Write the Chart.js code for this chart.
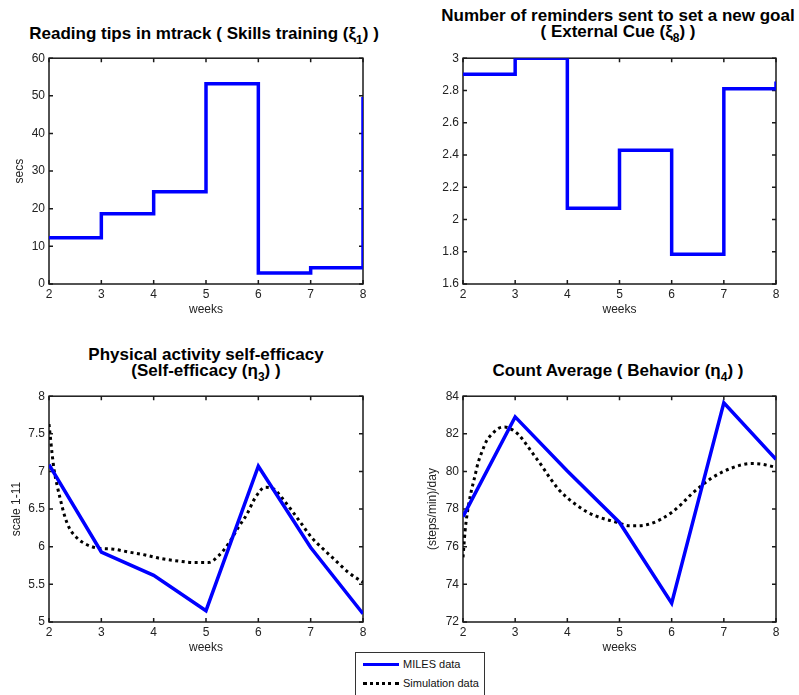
<!DOCTYPE html>
<html>
<head>
<meta charset="utf-8">
<script src="https://cdn.jsdelivr.net/npm/chart.js@4.4.1/dist/chart.umd.min.js"></script>
<style>
  html, body { margin:0; padding:0; background:#fff; }
  #wrap { position:relative; width:799px; height:695px; overflow:hidden; background:#fff;
          font-family:"Liberation Sans", Arial, Helvetica, sans-serif; }
  canvas { position:absolute; }
  .title { position:absolute; width:440px; text-align:center; font-weight:bold; font-size:17px;
           line-height:16px; color:#000; white-space:nowrap; }
  .title sub { font-size:12px; line-height:0; vertical-align:-5px; }
  #legend { position:absolute; left:355px; top:652px; width:128px; height:50px;
            border:1px solid #333; background:#fff; font-size:11px; color:#111; }
  .lrow { position:absolute; left:0; height:16px; line-height:16px; }
  .lrow .sw { position:absolute; left:7px; width:36px; height:0; }
  .lrow span { position:absolute; left:47px; white-space:nowrap; }
</style>
</head>
<body>
<div id="wrap">
  <canvas id="cA" width="380" height="273" style="left:0px;top:47px;width:380px;height:273px"></canvas>
  <canvas id="cB" width="385" height="273" style="left:414px;top:47px;width:385px;height:273px"></canvas>
  <canvas id="cC" width="380" height="273" style="left:0px;top:385px;width:380px;height:273px"></canvas>
  <canvas id="cD" width="385" height="273" style="left:414px;top:385px;width:385px;height:273px"></canvas>

  <div class="title" style="left:-16px;top:26px;">Reading tips in mtrack ( Skills training (ξ<sub>1</sub>) )</div>
  <div class="title" style="left:398px;top:8px;">Number of reminders sent to set a new goal<br>( External Cue (ξ<sub>8</sub>) )</div>
  <div class="title" style="left:-14px;top:347px;">Physical activity self-efficacy<br>(Self-efficacy (η<sub>3</sub>) )</div>
  <div class="title" style="left:398px;top:363px;">Count Average ( Behavior (η<sub>4</sub>) )</div>

  <div id="legend">
    <div class="lrow" style="top:3px;width:128px;"><div class="sw" style="top:7px;border-top:3px solid #0000ff;"></div><span>MILES data</span></div>
    <div class="lrow" style="top:22px;width:128px;"><div class="sw" style="top:7px;border-top:3px dotted #000;"></div><span>Simulation data</span></div>
  </div>
</div>
<script>
// ---------------- data ----------------
const weeks = [2, 3, 4, 5, 6, 7, 8];
const xTicks = [2, 3, 4, 5, 6, 7, 8];

// Reading tips in mtrack (secs) - stairs
const readingTips = [12.3, 18.7, 24.5, 53.2, 2.9, 4.3, 49.7];
// Number of reminders sent - stairs
const reminders = [2.90, 3.00, 2.07, 2.43, 1.785, 2.81, 2.855];

// Self-efficacy
const selfEffMiles = [7.09, 5.93, 5.62, 5.15, 7.07, 5.99, 5.11];
const selfEffSimX = [2.0, 2.03, 2.06, 2.10, 2.15, 2.21, 2.29, 2.38, 2.53, 2.69, 2.94, 3.20, 3.52, 3.84,
                     4.16, 4.47, 4.79, 5.05, 5.24, 5.43, 5.62, 5.78, 5.94, 6.13, 6.29, 6.45, 6.64,
                     6.83, 7.02, 7.21, 7.47, 7.72, 7.95, 8.0];
const selfEffSimY = [7.63, 7.43, 7.23, 7.01, 6.83, 6.65, 6.43, 6.26, 6.12, 6.04, 5.98, 5.97, 5.93, 5.89,
                     5.84, 5.81, 5.79, 5.79, 5.88, 6.04, 6.26, 6.43, 6.65, 6.79, 6.77, 6.65, 6.48,
                     6.30, 6.12, 5.99, 5.82, 5.66, 5.55, 5.53];

// Count average (steps/min)/day
const countMiles = [77.6, 82.9, 80.03, 77.29, 73.0, 83.65, 80.65];
const countSimX = [2.0, 2.02, 2.04, 2.07, 2.11, 2.16, 2.23, 2.29, 2.37, 2.45, 2.55, 2.68, 2.80, 2.93,
                   3.06, 3.19, 3.35, 3.51, 3.67, 3.83, 3.99, 4.15, 4.34, 4.53, 4.72, 4.91, 5.04,
                   5.17, 5.36, 5.58, 5.80, 6.00, 6.19, 6.38, 6.57, 6.76, 6.95, 7.14, 7.34, 7.53,
                   7.72, 7.97, 8.0];
const countSimY = [75.44, 76.15, 76.85, 77.56, 78.27, 78.97, 79.77, 80.47, 81.09, 81.62, 81.97, 82.29, 82.36, 82.24,
                   81.97, 81.53, 80.91, 80.30, 79.64, 79.06, 78.62, 78.27, 77.91, 77.65, 77.47, 77.33, 77.21,
                   77.12, 77.12, 77.21, 77.47, 77.82, 78.27, 78.80, 79.24, 79.64, 79.94, 80.17, 80.35, 80.42,
                   80.39, 80.24, 80.22];

// ---------------- helpers ----------------
const FONT = "'Liberation Sans', Arial, Helvetica, sans-serif";
const BLUE = '#0000ff';
const zip = (xs, ys) => xs.map((x, i) => ({x, y: ys[i]}));
const fmt = v => String(Math.round(v * 100) / 100);

const boxPlugin = {
  id: 'matlabBox',
  beforeDatasetsDraw(chart) {
    const {ctx, chartArea: a, scales: {x, y}} = chart;
    ctx.save();
    ctx.strokeStyle = '#1a1a1a';
    ctx.lineWidth = 1.5;
    ctx.beginPath();
    x.ticks.forEach(t => {
      const px = x.getPixelForValue(t.value);
      ctx.moveTo(px, a.bottom); ctx.lineTo(px, a.bottom - 4);
      ctx.moveTo(px, a.top); ctx.lineTo(px, a.top + 4);
    });
    y.ticks.forEach(t => {
      const py = y.getPixelForValue(t.value);
      ctx.moveTo(a.left, py); ctx.lineTo(a.left + 4, py);
      ctx.moveTo(a.right, py); ctx.lineTo(a.right - 4, py);
    });
    ctx.stroke();
    ctx.strokeRect(a.left, a.top, a.right - a.left, a.bottom - a.top);
    ctx.restore();
  }
};

function makeChart(id, cfg) {
  const yTitle = cfg.yTitle ? {display: true, text: cfg.yTitle, color: '#222',
                  font: {family: FONT, size: 12}, padding: {top: cfg.yTitlePad, bottom: 0}} : {display: false};
  return new Chart(document.getElementById(id), {
    type: 'line',
    data: {datasets: cfg.datasets},
    options: {
      responsive: false,
      animation: false,
      devicePixelRatio: 1,
      layout: {autoPadding: false, padding: {left: 0, right: cfg.padRight, top: 10, bottom: 0}},
      plugins: {legend: {display: false}, tooltip: {enabled: false}, title: {display: false}},
      elements: {point: {radius: 0, hoverRadius: 0}},
      scales: {
        x: {
          type: 'linear', min: 2, max: 8,
          afterBuildTicks: s => { s.ticks = xTicks.map(v => ({value: v})); },
          ticks: {color: '#222', font: {family: FONT, size: 12}, padding: 3, maxRotation: 0, autoSkip: false,
                  callback: v => fmt(v)},
          grid: {display: false, drawTicks: false},
          border: {display: false},
          title: {display: true, text: 'weeks', color: '#222', font: {family: FONT, size: 12},
                  padding: {top: 0, bottom: 3}},
          afterFit: s => { s.height = 36; }
        },
        y: {
          type: 'linear', min: cfg.yMin, max: cfg.yMax,
          afterBuildTicks: s => { s.ticks = cfg.yTicks.map(v => ({value: v})); },
          ticks: {color: '#222', font: {family: FONT, size: 12}, padding: 4, autoSkip: false,
                  callback: v => fmt(v)},
          grid: {display: false, drawTicks: false},
          border: {display: false},
          title: yTitle,
          afterFit: s => { s.width = 49; }
        }
      }
    },
    plugins: [boxPlugin]
  });
}

const milesStyle = {borderColor: BLUE, borderWidth: 3.5, fill: false, tension: 0, pointRadius: 0};
const simStyle = {borderColor: '#000', borderWidth: 3, borderDash: [3, 3.5], fill: false,
                  cubicInterpolationMode: 'monotone', pointRadius: 0, borderCapStyle: 'butt'};

makeChart('cA', {
  yMin: 0, yMax: 60, yTicks: [0, 10, 20, 30, 40, 50, 60], yTitle: 'secs', yTitlePad: 12, padRight: 17,
  datasets: [Object.assign({label: 'MILES data', data: zip(weeks, readingTips), stepped: 'before'}, milesStyle)]
});
makeChart('cB', {
  yMin: 1.6, yMax: 3, yTicks: [1.6, 1.8, 2, 2.2, 2.4, 2.6, 2.8, 3], yTitle: null, padRight: 23,
  datasets: [Object.assign({label: 'MILES data', data: zip(weeks, reminders), stepped: 'before'}, milesStyle)]
});
makeChart('cC', {
  yMin: 5, yMax: 8, yTicks: [5, 5.5, 6, 6.5, 7, 7.5, 8], yTitle: 'scale 1-11', yTitlePad: 9.5, padRight: 17,
  datasets: [
    Object.assign({label: 'MILES data', data: zip(weeks, selfEffMiles)}, milesStyle),
    Object.assign({label: 'Simulation data', data: zip(selfEffSimX, selfEffSimY)}, simStyle)
  ]
});
makeChart('cD', {
  yMin: 72, yMax: 84, yTicks: [72, 74, 76, 78, 80, 82, 84], yTitle: '(steps/min)/day', yTitlePad: 11.5, padRight: 23,
  datasets: [
    Object.assign({label: 'MILES data', data: zip(weeks, countMiles)}, milesStyle),
    Object.assign({label: 'Simulation data', data: zip(countSimX, countSimY)}, simStyle)
  ]
});
</script>
</body>
</html>
